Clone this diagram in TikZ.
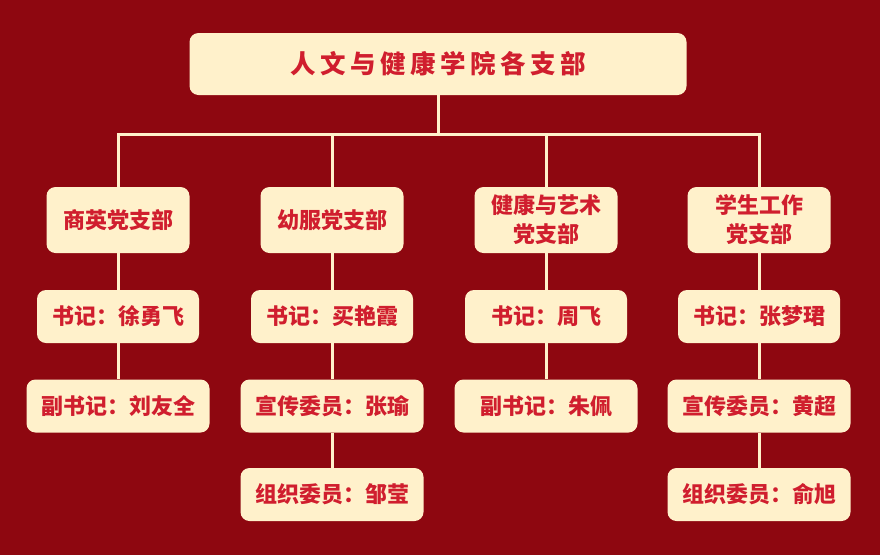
\documentclass[tikz,border=0pt]{standalone}
\usepackage{fontspec}
\usepackage{tikz}
\newfontfamily\cjk{Noto Sans CJK SC Black}
\definecolor{hongdi}{RGB}{142,7,16}
\definecolor{mise}{RGB}{255,241,203}
\definecolor{zihong}{RGB}{208,30,46}

\begin{document}
\begin{tikzpicture}[x=1pt, y=-1pt,
		kuang/.style={fill=mise, rounded corners=9pt, text=zihong, align=center, inner sep=0pt,
			font=\cjk\fontsize{22}{29}\selectfont},
		zhibu/.style={kuang, minimum width=143pt, minimum height=66pt},
		renyuan/.style={kuang, minimum width=162pt, minimum height=53pt},
		weiyuan/.style={kuang, minimum width=183pt, minimum height=53pt},
		xian/.style={draw=mise, line width=3pt}]
	\fill[hongdi] (0,0) rectangle (880,555);
	% zong zhibu
	\node[kuang, minimum width=497pt, minimum height=62pt, font=\cjk\fontsize{25.5}{30}\selectfont] (zong) at (438,64)
		{人\hspace{4.5pt}文\hspace{4.5pt}与\hspace{4.5pt}健\hspace{4.5pt}康\hspace{4.5pt}学\hspace{4.5pt}院\hspace{4.5pt}各\hspace{4.5pt}支\hspace{4.5pt}部};
	\coordinate (heng) at (438,134);
	% si ge zhibu
	\node[zhibu] (shangying) at (118,220) {商英党支部};
	\node[zhibu] (youfu) at (332,220) {幼服党支部};
	\node[zhibu] (jiankang) at (546,220) {健康与艺术\\党支部};
	\node[zhibu] (xuesheng) at (759,220) {学生工作\\党支部};
	% shuji
	\node[renyuan] (sj1) at (118,316.5) {书记：徐勇飞};
	\node[renyuan] (sj2) at (332,316.5) {书记：买艳霞};
	\node[renyuan] (sj3) at (546,316.5) {书记：周飞};
	\node[renyuan] (sj4) at (759,316.5) {书记：张梦珺};
	% weiyuan
	\node[weiyuan] (fsj1) at (118,406) {副书记：刘友全};
	\node[weiyuan] (xc2) at (332,406) {宣传委员：张瑜};
	\node[weiyuan] (fsj3) at (546,406) {副书记：朱佩};
	\node[weiyuan] (xc4) at (759,406) {宣传委员：黄超};
	\node[weiyuan] (zz2) at (332,494.5) {组织委员：邹莹};
	\node[weiyuan] (zz4) at (759,494.5) {组织委员：俞旭};
	% lianxian
	\draw[xian] (zong.south) -- (heng);
	\draw[xian] (shangying.north) -- (shangying.north |- heng) -- (xuesheng.north |- heng) -- (xuesheng.north);
	\draw[xian] (youfu.north) -- (youfu.north |- heng) (jiankang.north) -- (jiankang.north |- heng);
	\draw[xian] (shangying) -- (sj1) -- (fsj1);
	\draw[xian] (youfu) -- (sj2) -- (xc2) -- (zz2);
	\draw[xian] (jiankang) -- (sj3) -- (fsj3);
	\draw[xian] (xuesheng) -- (sj4) -- (xc4) -- (zz4);
\end{tikzpicture}
\end{document}
